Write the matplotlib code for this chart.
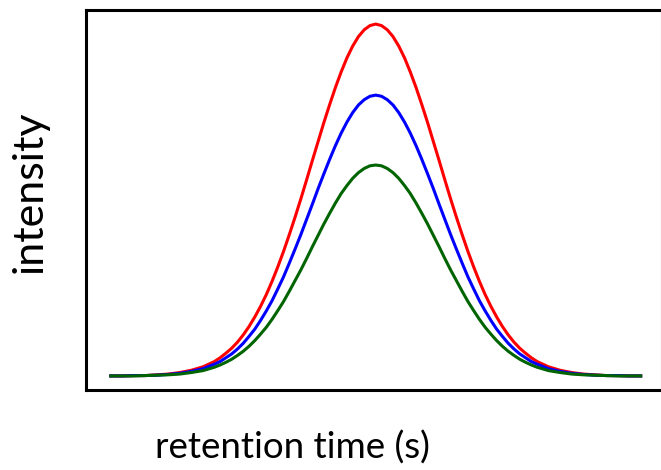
import matplotlib.pyplot as plt

plt.rcParams['font.family'] = ['Lato', 'DejaVu Sans']

# retention time (arbitrary units) and peak intensities
time = [4, 6, 8, 10, 12, 14, 16, 18, 20, 22,
        23, 24, 25, 26, 27, 28, 29, 30, 31, 32, 33, 34, 35, 36, 37, 38, 39, 40, 41, 42, 43, 44, 45, 46,
        47, 48, 49, 50, 51, 52, 53, 54, 55, 56, 57, 58, 59, 60, 61, 62, 63, 64, 65, 66, 67, 68, 69, 70,
        71, 72, 73, 74, 75, 76, 77,
        78, 80, 82, 84, 86, 88, 90, 92, 94, 96]

red = [3.7, 3.7, 3.8, 3.8, 4.0, 4.2, 4.6, 5.2, 6.1, 7.5,
       8.5, 9.7, 11.0, 12.6, 14.5, 16.7, 19.2, 22.0, 25.1, 28.6, 32.4, 36.5, 40.9, 45.5, 50.3, 55.3,
       60.4, 65.4, 70.4, 75.1, 79.6, 83.7, 87.4, 90.5, 93.0, 94.8, 95.9,
       96.3,
       95.9, 94.8, 93.0, 90.5, 87.4, 83.7, 79.6, 75.1, 70.4, 65.4, 60.4, 55.3, 50.3, 45.5, 40.9, 36.5,
       32.4, 28.6, 25.1, 22.0, 19.2, 16.7, 14.5, 12.6, 11.0, 9.7, 8.5,
       7.5, 6.1, 5.2, 4.6, 4.2, 4.0, 3.8, 3.8, 3.7, 3.7]

blue = [3.7, 3.7, 3.8, 3.8, 3.9, 4.1, 4.4, 4.9, 5.6, 6.8,
        7.5, 8.5, 9.5, 10.8, 12.3, 14.1, 16.0, 18.3, 20.8, 23.5, 26.6, 29.8, 33.4, 37.1, 40.9, 44.9,
        48.9, 53.0, 56.9, 60.7, 64.3, 67.6, 70.5, 73.0, 75.0, 76.4, 77.3,
        77.6,
        77.3, 76.4, 75.0, 73.0, 70.5, 67.6, 64.3, 60.7, 56.9, 53.0, 48.9, 44.9, 40.9, 37.1, 33.4, 29.8,
        26.6, 23.5, 20.8, 18.3, 16.0, 14.1, 12.3, 10.8, 9.5, 8.5, 7.5,
        6.8, 5.6, 4.9, 4.4, 4.1, 3.9, 3.8, 3.8, 3.7, 3.7]

green = [3.7, 3.7, 3.7, 3.8, 3.9, 4.0, 4.2, 4.6, 5.1, 6.0,
         6.6, 7.3, 8.1, 9.1, 10.2, 11.5, 13.0, 14.7, 16.5, 18.6, 20.9, 23.3, 26.0, 28.8, 31.6, 34.6,
         37.7, 40.7, 43.7, 46.5, 49.2, 51.7, 53.8, 55.7, 57.2, 58.3, 59.0,
         59.2,
         59.0, 58.3, 57.2, 55.7, 53.8, 51.7, 49.2, 46.5, 43.7, 40.7, 37.7, 34.6, 31.6, 28.8, 26.0, 23.3,
         20.9, 18.6, 16.5, 14.7, 13.0, 11.5, 10.2, 9.1, 8.1, 7.3, 6.6,
         6.0, 5.1, 4.6, 4.2, 4.0, 3.9, 3.8, 3.7, 3.7, 3.7]

fig = plt.figure(figsize=(6.61, 4.70), dpi=100)
ax = fig.add_axes([86 / 661, 80 / 470, 576 / 661, 380 / 470])

ax.plot(time, red, color='#ff0000', lw=2.2, solid_joinstyle='round')
ax.plot(time, blue, color='#0000ff', lw=2.2, solid_joinstyle='round')
ax.plot(time, green, color='#006400', lw=2.2, solid_joinstyle='round')

ax.set_xlim(-0.3, 99.7)
ax.set_ylim(0, 100)
ax.set_xticks([])
ax.set_yticks([])
for spine in ax.spines.values():
    spine.set_linewidth(2.2)
    spine.set_color('black')

fig.text(292 / 661, 1 - 448 / 470, 'retention time (s)', fontsize=26.5,
         ha='center', va='center')
fig.text(30 / 661, 1 - 192 / 470, 'intensity', fontsize=31, rotation=90,
         ha='center', va='center')

fig.savefig('out.png', dpi=100, facecolor='white')
